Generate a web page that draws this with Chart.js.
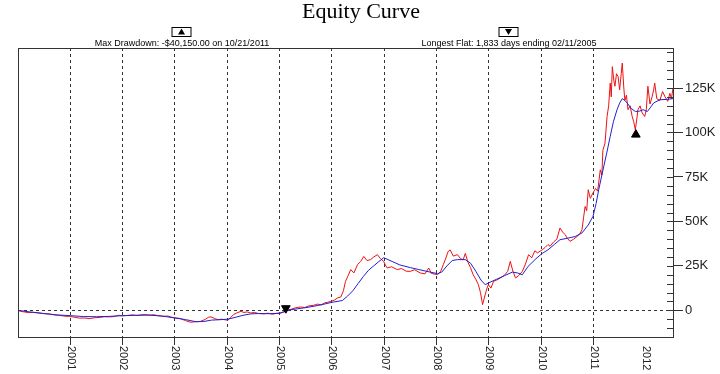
<!DOCTYPE html>
<html lang="en">
<head>
    <meta charset="UTF-8">
    <title>Equity Curve</title>
    <script src="https://cdn.jsdelivr.net/npm/chart.js"></script>
    <style>
        body { margin: 0; background: #fff; }
        canvas { display: block; }
    </style>
</head>
<body>
    <canvas id="equityChart" width="720" height="374"></canvas>

    <script>
        // equity in $K, x in decimal years
        const equityYears = [
            2000.00, 2000.05, 2000.12, 2000.20, 2000.28, 2000.40, 2000.50, 2000.60, 2000.70, 2000.80, 2000.90, 2000.98,
            2001.08, 2001.18, 2001.28, 2001.36, 2001.46, 2001.56, 2001.65, 2001.74, 2001.84, 2001.92, 2001.99,
            2002.08, 2002.18, 2002.28, 2002.36, 2002.44, 2002.52, 2002.60, 2002.69, 2002.78, 2002.86, 2002.94,
            2003.01, 2003.10, 2003.20, 2003.30, 2003.40, 2003.49, 2003.58, 2003.64, 2003.69, 2003.76, 2003.82, 2003.90,
            2004.01, 2004.06, 2004.12, 2004.18, 2004.26, 2004.32, 2004.38, 2004.45, 2004.52, 2004.60, 2004.70, 2004.78, 2004.86, 2004.94,
            2005.02, 2005.10, 2005.15, 2005.22, 2005.30, 2005.40, 2005.48, 2005.56, 2005.65, 2005.72, 2005.80, 2005.86, 2005.92, 2005.98,
            2006.05, 2006.11, 2006.17, 2006.22, 2006.26, 2006.31, 2006.36, 2006.42, 2006.49, 2006.55, 2006.61, 2006.67, 2006.74, 2006.80, 2006.87, 2006.93, 2006.99,
            2007.03, 2007.06, 2007.14, 2007.25, 2007.33, 2007.42, 2007.50, 2007.58, 2007.69, 2007.78, 2007.85, 2007.90,
            2008.02, 2008.08, 2008.13, 2008.18, 2008.22, 2008.26, 2008.32, 2008.40, 2008.46, 2008.51, 2008.55, 2008.60, 2008.65, 2008.70, 2008.75, 2008.80, 2008.84, 2008.88, 2008.93, 2008.96, 2008.99,
            2009.04, 2009.09, 2009.15, 2009.22, 2009.29, 2009.36, 2009.41, 2009.46, 2009.51, 2009.57, 2009.64, 2009.70, 2009.76, 2009.82, 2009.88, 2009.93,
            2010.02, 2010.08, 2010.13, 2010.17, 2010.24, 2010.30, 2010.36, 2010.41, 2010.46, 2010.50, 2010.55, 2010.62, 2010.69, 2010.74, 2010.78, 2010.81, 2010.84, 2010.87, 2010.90, 2010.94, 2010.99,
            2011.04, 2011.08, 2011.13, 2011.16, 2011.18, 2011.22, 2011.26, 2011.29, 2011.32, 2011.34, 2011.36, 2011.39, 2011.41, 2011.44, 2011.47, 2011.50, 2011.53, 2011.55, 2011.58, 2011.60, 2011.63, 2011.66, 2011.70, 2011.74, 2011.77, 2011.80, 2011.83, 2011.85, 2011.89, 2011.93, 2011.98,
            2012.01, 2012.04, 2012.08, 2012.12, 2012.15, 2012.17, 2012.21, 2012.27, 2012.32, 2012.37, 2012.42, 2012.46, 2012.49, 2012.52
        ];
        const equityValues = [
            0, -0.6, -0.9, -1.3, -1.1, -1.5, -1.9, -2.1, -2.6, -2.9, -3.3, -3.4,
            -3.9, -4.4, -4.3, -4.7, -4.2, -4.0, -3.6, -3.7, -3.5, -2.8, -3.1,
            -2.9, -2.6, -2.9, -2.5, -2.4, -2.7, -2.5, -3.1, -3.4, -3.2, -3.9,
            -4.3, -4.6, -5.8, -6.7, -6.4, -6.2, -5.1, -3.9, -3.7, -4.6, -5.2, -5.0,
            -5.6, -4.2, -2.4, -1.5, -0.6, -1.2, -0.9, -1.5, -1.2, -1.8, -2.0, -1.6, -2.2, -1.7,
            -1.5, -0.8, 0.0, 0.6, 1.4, 1.9, 1.6, 2.5, 2.8, 3.5, 3.1, 4.2, 4.5, 5.0,
            5.8, 7.0, 7.5, 11.0, 16.3, 19.5, 22.9, 21.0, 25.7, 27.5, 30.3, 28.0, 28.5, 30.0, 31.3, 29.0, 27.5,
            25.0, 23.8, 24.5, 22.9, 23.5, 22.0, 21.9, 22.8, 21.0, 20.5, 23.8, 20.8,
            20.0, 22.0, 25.7, 29.5, 33.0, 34.0, 30.5, 31.3, 29.0, 28.5, 32.0, 27.0, 24.0, 20.0, 17.5, 14.4, 10.0, 3.2, 8.8, 12.0, 14.4,
            12.5, 16.3, 17.0, 18.2, 19.5, 21.9, 27.5, 22.0, 18.2, 19.5, 21.9, 26.0, 31.3, 29.5, 33.5, 32.3,
            34.0, 35.5, 37.0, 36.0, 38.5, 40.0, 46.3, 44.0, 42.5, 40.5, 38.8, 40.0, 41.6, 43.0, 45.3, 52.0, 58.4, 56.0, 67.8, 63.0, 66.0,
            68.5, 67.0, 79.0, 76.0, 90.0, 94.0, 109.0, 115.0, 127.8, 120.0, 137.0, 129.0, 126.0, 133.0, 131.5, 124.0, 133.0, 139.0, 125.0, 118.0, 121.0, 112.8, 115.0, 109.0, 106.0, 101.5, 108.0, 112.8, 115.0, 111.0, 109.0,
            113.0, 126.0, 116.0, 120.0, 124.0, 127.8, 119.0, 118.0, 123.0, 120.0, 117.5, 122.0, 119.0, 125.0
        ];

        // moving average of equity, $K
        const avgYears = [
            2000.00, 2000.25, 2000.50, 2000.75, 2001.00, 2001.25, 2001.50, 2001.75, 2002.00, 2002.25, 2002.50, 2002.75,
            2003.00, 2003.20, 2003.40, 2003.55, 2003.70, 2003.85, 2004.00, 2004.15, 2004.30, 2004.45, 2004.60, 2004.80,
            2005.00, 2005.15, 2005.35, 2005.50, 2005.75, 2006.00, 2006.20, 2006.30, 2006.40, 2006.50, 2006.60, 2006.70, 2006.80, 2006.90, 2006.99,
            2007.15, 2007.30, 2007.50, 2007.65, 2007.80, 2008.02, 2008.10, 2008.20, 2008.30, 2008.40, 2008.55, 2008.65, 2008.75, 2008.85, 2008.93,
            2009.00, 2009.15, 2009.30, 2009.45, 2009.55, 2009.64, 2009.75, 2009.90, 2010.02, 2010.13, 2010.25, 2010.36, 2010.50, 2010.65, 2010.78, 2010.90, 2010.99,
            2011.05, 2011.10, 2011.16, 2011.25, 2011.32, 2011.38, 2011.45, 2011.50, 2011.55, 2011.60, 2011.64, 2011.72, 2011.80, 2011.88, 2011.95,
            2012.03, 2012.10, 2012.15, 2012.27, 2012.40, 2012.52
        ];
        const avgValues = [
            0, -1.0, -1.8, -2.6, -3.0, -3.5, -3.6, -3.4, -3.0, -2.8, -2.7, -3.2,
            -4.3, -5.2, -6.4, -6.3, -5.5, -5.3, -5.0, -4.0, -2.8, -2.0, -1.8, -1.9,
            -1.7, 0.0, 0.9, 1.5, 2.8, 4.5, 5.5, 8.0, 11.0, 15.0, 19.0, 22.5, 25.0, 27.5, 29.6,
            27.5, 25.5, 24.0, 23.0, 22.0, 20.6, 21.5, 25.0, 28.0, 28.5, 28.5, 26.5, 22.0, 17.0, 14.4,
            15.5, 17.5, 19.5, 21.5, 21.0, 20.0, 24.7, 29.0, 32.0, 34.0, 37.0, 39.7, 40.5, 41.5, 43.5, 48.0, 52.8,
            60.0, 67.8, 76.0, 88.0, 97.8, 106.0, 112.8, 116.5, 119.0, 118.0, 116.7, 113.5, 111.8, 112.0, 112.8,
            111.8, 114.5, 116.6, 118.4, 118.6, 119.0
        ];

        // longest flat end (down) and max drawdown (up)
        const markerYears = [2005.12, 2011.81];
        const markerValues = [1.2, 98.8];
        const markerRotation = [180, 0];

        const yearTicks = [2001, 2002, 2003, 2004, 2005, 2006, 2007, 2008, 2009, 2010, 2011, 2012];

        const xMin = 2000, xMax = 2012.52;
        const yMin = -15, yMax = 147.5;

        const toPoints = (xs, ys) => xs.map((x, i) => ({ x: x, y: ys[i] }));

        const extras = {
            id: 'extras',
            afterDraw(chart) {
                const { ctx, chartArea: a, scales: { x, y } } = chart;
                ctx.save();

                // plot frame
                ctx.strokeStyle = '#333';
                ctx.lineWidth = 1;
                ctx.setLineDash([]);
                ctx.strokeRect(a.left + 0.5, a.top + 0.5, a.right - a.left, a.bottom - a.top);

                // inward minor ticks on the right axis
                ctx.beginPath();
                for (let v = -15; v <= 145; v += 5) {
                    const py = Math.round(y.getPixelForValue(v)) + 0.5;
                    ctx.moveTo(a.right - 6, py);
                    ctx.lineTo(a.right, py);
                }
                ctx.stroke();

                // year labels, rotated clockwise
                ctx.fillStyle = '#222';
                ctx.font = '11px "Liberation Sans", Arial, sans-serif';
                ctx.textAlign = 'left';
                ctx.textBaseline = 'middle';
                yearTicks.forEach(yr => {
                    const px = x.getPixelForValue(yr);
                    ctx.save();
                    ctx.translate(px + 0.5, a.bottom + 9);
                    ctx.rotate(Math.PI / 2);
                    ctx.fillText(String(yr), 0, 0);
                    ctx.restore();
                });

                // title
                ctx.fillStyle = '#000';
                ctx.textAlign = 'center';
                ctx.textBaseline = 'alphabetic';
                ctx.font = '22px "Liberation Serif", "Times New Roman", serif';
                ctx.fillText('Equity Curve', 361, 18);

                // captions
                ctx.font = '9px "Liberation Sans", Arial, sans-serif';
                ctx.fillText('Max Drawdown: -$40,150.00 on 10/21/2011', 182, 46);
                ctx.fillText('Longest Flat: 1,833 days ending 02/11/2005', 509, 46);

                // caption marker boxes
                const box = (cx, up) => {
                    ctx.strokeStyle = '#000';
                    ctx.strokeRect(cx - 9.5, 27.5, 19, 9);
                    ctx.beginPath();
                    if (up) {
                        ctx.moveTo(cx - 3.5, 34.5);
                        ctx.lineTo(cx + 3.5, 34.5);
                        ctx.lineTo(cx, 28.5);
                    } else {
                        ctx.moveTo(cx - 3.5, 29);
                        ctx.lineTo(cx + 3.5, 29);
                        ctx.lineTo(cx, 35);
                    }
                    ctx.closePath();
                    ctx.fill();
                };
                box(181.5, true);
                box(508.5, false);

                ctx.restore();
            }
        };

        const chart = new Chart(document.getElementById('equityChart'), {
            type: 'line',
            data: {
                datasets: [
                    {
                        label: 'Markers',
                        data: toPoints(markerYears, markerValues),
                        showLine: false,
                        pointStyle: 'triangle',
                        pointRadius: 5,
                        pointRotation: markerRotation,
                        backgroundColor: '#000',
                        borderColor: '#000',
                        borderWidth: 1
                    },
                    {
                        label: 'Average',
                        data: toPoints(avgYears, avgValues),
                        borderColor: '#2020d0',
                        borderWidth: 1,
                        pointRadius: 0,
                        tension: 0
                    },
                    {
                        label: 'Equity',
                        data: toPoints(equityYears, equityValues),
                        borderColor: '#ee1111',
                        borderWidth: 1,
                        pointRadius: 0,
                        tension: 0
                    }
                ]
            },
            options: {
                responsive: false,
                animation: false,
                events: [],
                layout: { padding: { left: 18, top: 48, right: 0, bottom: 0 } },
                scales: {
                    x: {
                        type: 'linear',
                        min: xMin,
                        max: xMax,
                        afterFit: s => { s.height = 37; },
                        ticks: { stepSize: 1, autoSkip: false, display: false },
                        grid: {
                            color: c => (Number.isInteger(c.tick.value) && c.tick.value > xMin) ? '#333' : 'transparent',
                            tickColor: c => (Number.isInteger(c.tick.value) && c.tick.value > xMin) ? '#333' : 'transparent',
                            tickLength: 8,
                            tickBorderDash: []
                        },
                        border: { display: false, dash: [3, 3] }
                    },
                    y: {
                        type: 'linear',
                        position: 'right',
                        min: yMin,
                        max: yMax,
                        afterFit: s => { s.width = 47; },
                        ticks: {
                            stepSize: 5,
                            autoSkip: false,
                            padding: 2,
                            color: '#222',
                            font: { family: '"Liberation Sans", Arial, sans-serif', size: 13 },
                            callback: v => v === 0 ? '0' : (v > 0 && v % 25 === 0 ? v + 'K' : '')
                        },
                        grid: {
                            color: c => c.tick.value === 0 ? '#333' : 'transparent',
                            tickColor: c => (c.tick.value % 25 === 0 && c.tick.value >= 0) ? '#333' : 'transparent',
                            tickLength: 10,
                            tickBorderDash: []
                        },
                        border: { display: false, dash: [3, 3] }
                    }
                },
                plugins: {
                    legend: { display: false },
                    tooltip: { enabled: false }
                }
            },
            plugins: [extras]
        });
    </script>
</body>
</html>
